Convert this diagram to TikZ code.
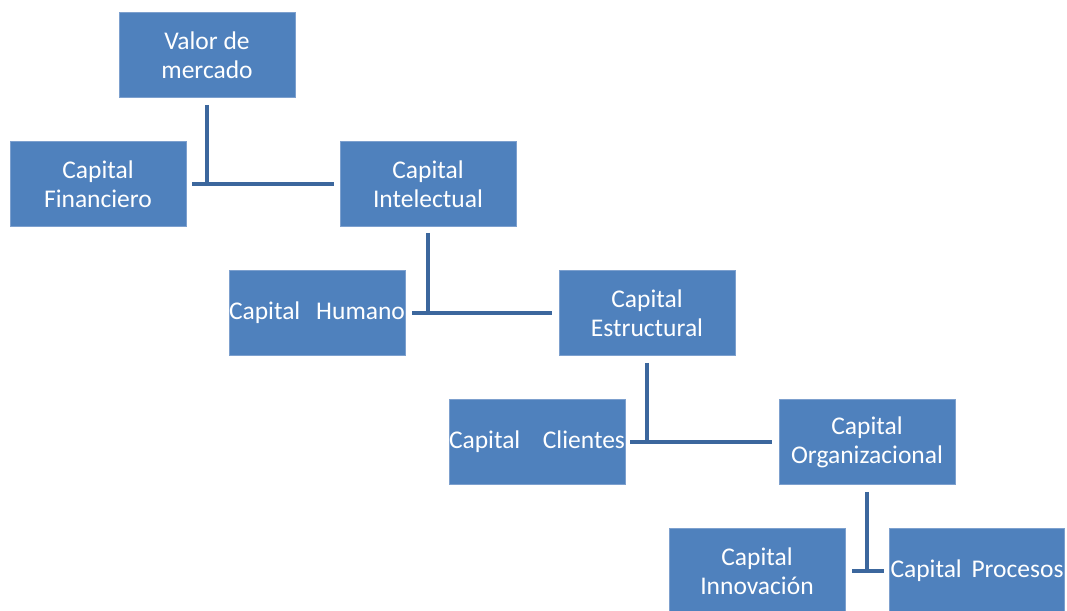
\documentclass[tikz,border=0pt]{standalone}
\usepackage{fontspec}
\setmainfont{Carlito}
\definecolor{boxblue}{RGB}{79,129,189}
\definecolor{boxedge}{RGB}{125,160,206}
\definecolor{linkblue}{RGB}{60,103,157}
\tikzset{
  capbox/.style={rectangle, fill=boxblue, draw=boxedge, line width=0.8pt,
    minimum width=176pt, minimum height=85pt, inner sep=0pt,
    text=white, align=center, font=\fontsize{25.5}{29}\selectfont},
  link/.style={draw=linkblue, line width=4.5pt},
}
\begin{document}
\begin{tikzpicture}[x=1pt,y=-1pt]
  \useasboundingbox (0,0) rectangle (1067,610);

  % boxes of the hierarchy
  \node[capbox] (vm)   at (207,55)  {Valor de\\mercado};
  \node[capbox] (cf)   at (98,184)  {Capital\\Financiero};
  \node[capbox] (ci)   at (428,184) {Capital\\Intelectual};
  \node[capbox, minimum width=174pt] (ch) at (317,313)
      {\makebox[176pt]{Capital\hfill Humano}};
  \node[capbox] (ce)   at (647,313) {Capital\\Estructural};
  \node[capbox] (cc)   at (537,442)
      {\makebox[176pt]{Capital\hfill Clientes}};
  \node[capbox] (co)   at (867,442) {Capital\\Organizacional};
  \node[capbox] (cinn) at (757,571) {Capital\\Innovación};
  \node[capbox, minimum width=175pt] (cp) at (977,571)
      {\makebox[173pt]{Capital\hfill Procesos}};

  % T-shaped links between each parent and its two children
  \draw[link, shorten <=7pt, shorten >=-2pt] (vm) -- (vm |- cf);
  \draw[link, shorten <=6pt, shorten >=6pt] (cf) -- (ci);

  \draw[link, shorten <=6pt, shorten >=-2pt] (ci) -- (ci |- ch);
  \draw[link, shorten <=7pt, shorten >=7pt] (ch) -- (ce);

  \draw[link, shorten <=7pt, shorten >=-2pt] (ce) -- (ce |- cc);
  \draw[link, shorten <=5pt, shorten >=7pt] (cc) -- (co);

  \draw[link, shorten <=7pt, shorten >=-2pt] (co) -- (co |- cinn);
  \draw[link, shorten <=7pt, shorten >=5pt] (cinn) -- (cp);
\end{tikzpicture}
\end{document}
